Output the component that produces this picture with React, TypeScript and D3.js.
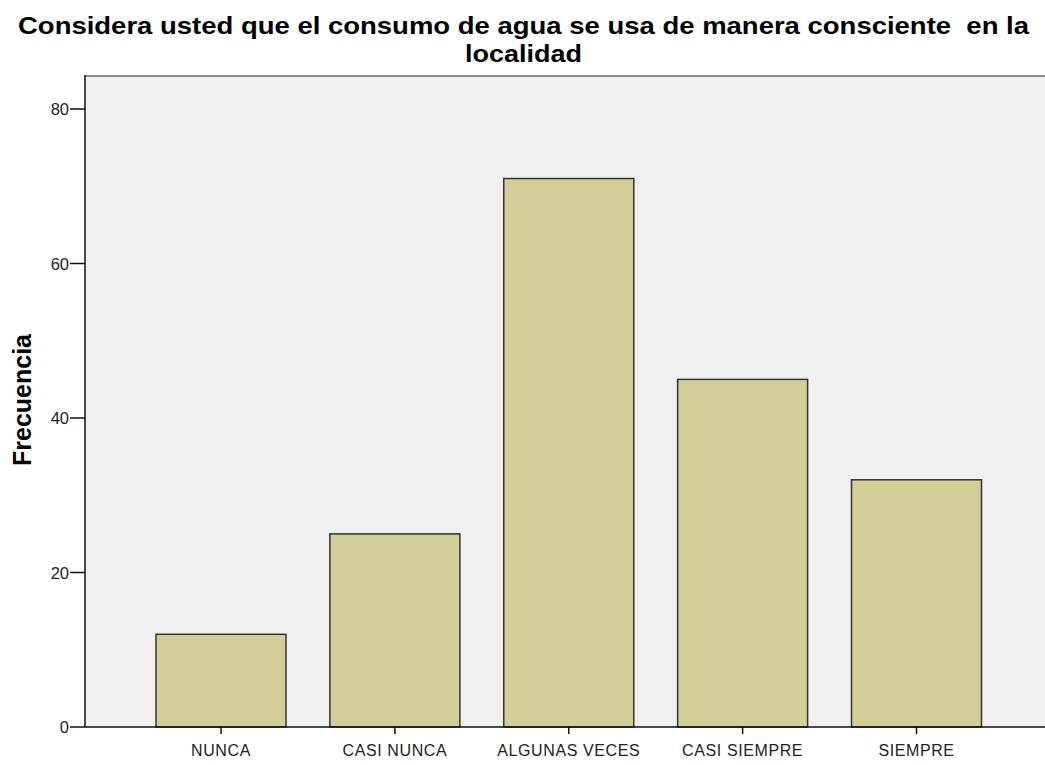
import React from "react";
import * as d3 from "d3";

const categories = ["NUNCA", "CASI NUNCA", "ALGUNAS VECES", "CASI SIEMPRE", "SIEMPRE"];
const frequencies = [12, 25, 71, 45, 32];
const yTicks = [0, 20, 40, 60, 80];
const titleLines = [
  "Considera usted que el consumo de agua se usa de manera consciente  en la",
  "localidad",
];
const yLabel = "Frecuencia";

const W = 1045;
const H = 765;
const plotLeft = 85;
const plotTop = 75;
const plotRight = 1045;
const plotBottom = 727;

export default function App() {
  const x = d3.scalePoint<string>().domain(categories).range([221, 916.5]);
  const y = d3.scaleLinear().domain([0, 80]).range([plotBottom, 109]);
  const barW = 130;

  return (
    <svg
      width={W}
      height={H}
      style={{ position: "absolute", left: 0, top: 0, background: "#fff" }}
      fontFamily="Liberation Sans, Arial, sans-serif"
    >
      <rect x={0} y={0} width={W} height={H} fill="#fff" />
      {/* title */}
      <text
        x={523.5}
        y={33.5}
        textAnchor="middle"
        fontSize={24.5}
        fontWeight="bold"
        fill="#000"
        textLength={1011}
        lengthAdjust="spacingAndGlyphs"
        style={{ whiteSpace: "pre" }}
      >
        {titleLines[0]}
      </text>
      <text
        x={523.5}
        y={61.5}
        textAnchor="middle"
        fontSize={24.5}
        fontWeight="bold"
        fill="#000"
        textLength={117}
        lengthAdjust="spacingAndGlyphs"
      >
        {titleLines[1]}
      </text>

      {/* plot background */}
      <rect
        x={plotLeft}
        y={plotTop}
        width={plotRight - plotLeft}
        height={plotBottom - plotTop}
        fill="#F0F0F0"
      />
      <line x1={plotLeft} x2={plotRight} y1={plotTop + 1} y2={plotTop + 1} stroke="#8a8a8a" strokeWidth={2} />

      {/* bars */}
      {categories.map((c, i) => (
        <rect
          key={c}
          x={(x(c) as number) - barW / 2}
          y={y(frequencies[i])}
          width={barW}
          height={plotBottom - y(frequencies[i])}
          fill="#D3CE98"
          stroke="#333"
          strokeWidth={1.5}
        />
      ))}

      {/* y axis */}
      <line x1={plotLeft} x2={plotLeft} y1={plotTop} y2={plotBottom} stroke="#111" strokeWidth={1.5} />
      {yTicks.map((t) => (
        <g key={t}>
          <line x1={70} x2={plotLeft} y1={y(t)} y2={y(t)} stroke="#111" strokeWidth={1.5} />
          <text x={69} y={y(t) + 6} textAnchor="end" fontSize={16.5} fill="#222">
            {t}
          </text>
        </g>
      ))}

      {/* x axis */}
      <line x1={plotLeft} x2={plotRight} y1={plotBottom} y2={plotBottom} stroke="#111" strokeWidth={1.5} />
      {categories.map((c) => (
        <g key={c}>
          <line x1={x(c)} x2={x(c)} y1={plotBottom} y2={plotBottom + 7} stroke="#111" strokeWidth={1.5} />
          <text x={x(c)} y={756} textAnchor="middle" fontSize={16} fill="#222" letterSpacing={0.6}>
            {c}
          </text>
        </g>
      ))}

      {/* y label */}
      <text
        transform="translate(31,400) rotate(-90)"
        textAnchor="middle"
        fontSize={25}
        fontWeight="bold"
        fill="#000"
      >
        {yLabel}
      </text>
    </svg>
  );
}
